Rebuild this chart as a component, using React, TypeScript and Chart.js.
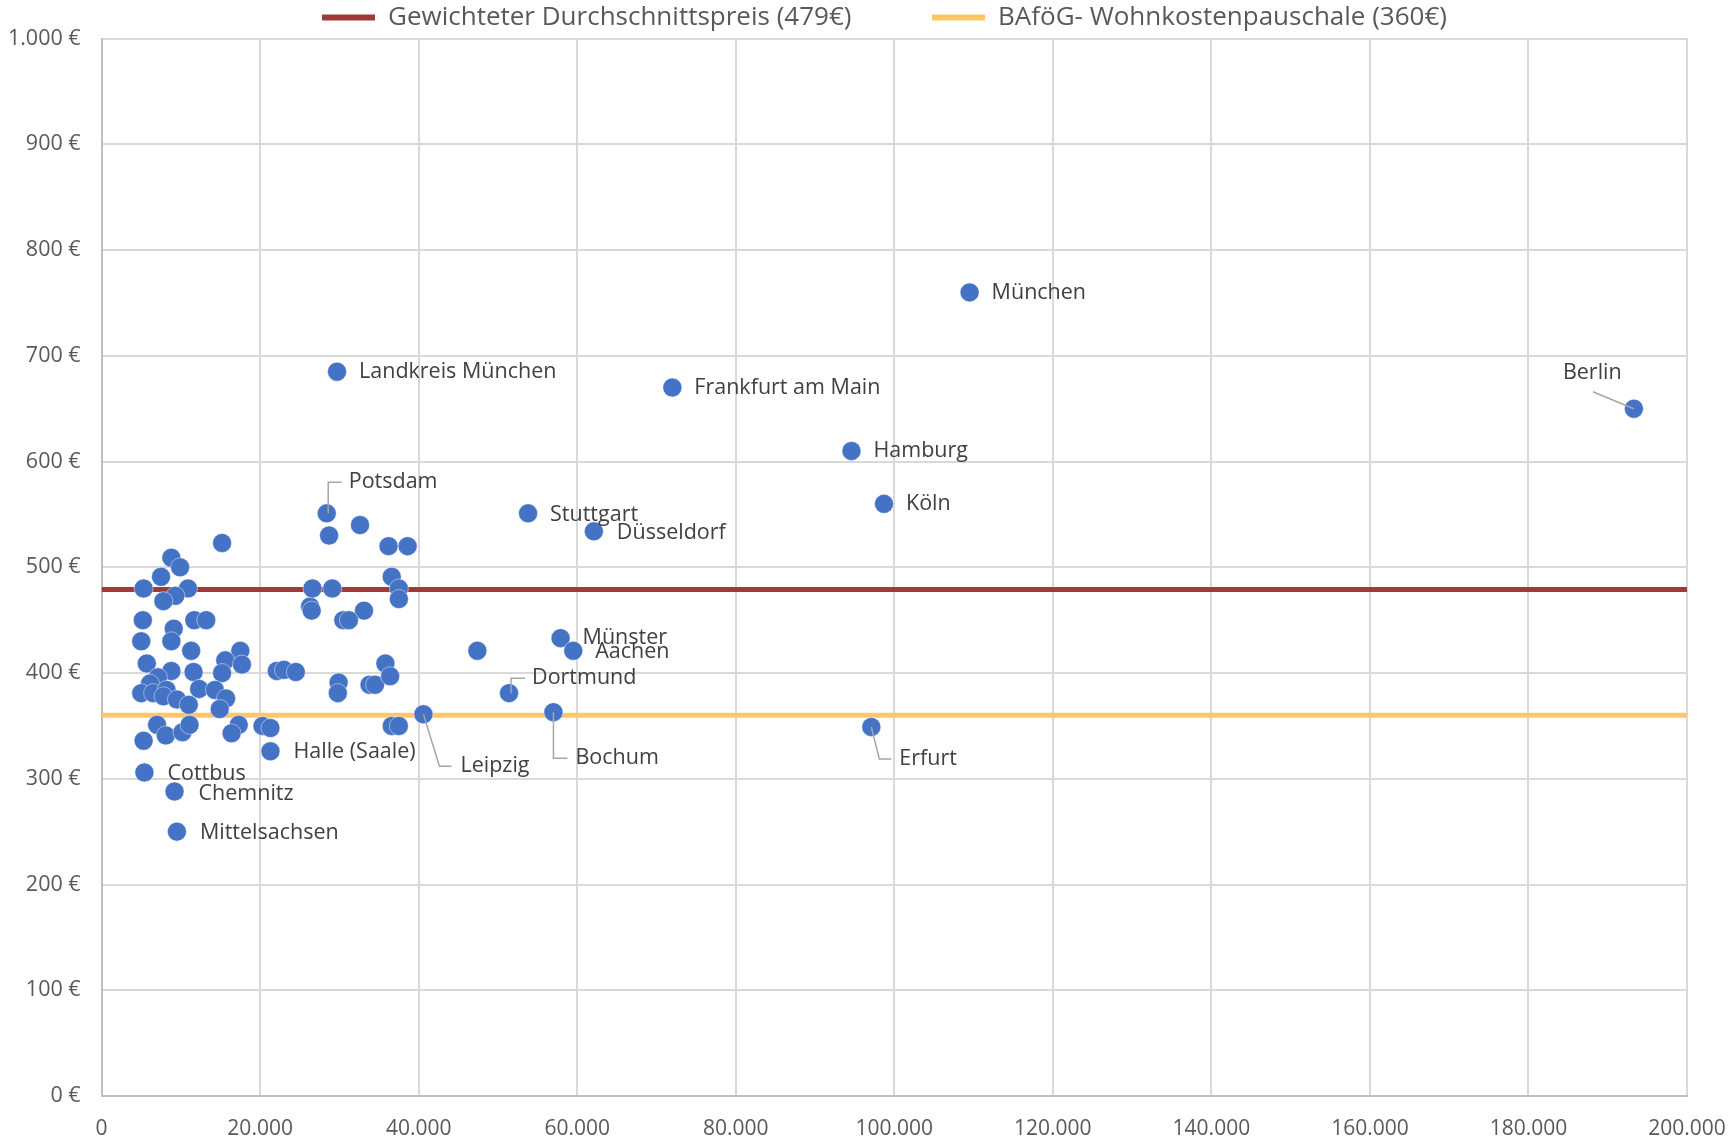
import React, { useEffect, useRef } from "react";
import { Chart, registerables } from "chart.js";

Chart.register(...registerables);

// ---------- data ----------
const labeledCities = [
  "München", "Berlin", "Landkreis München", "Frankfurt am Main", "Hamburg", "Köln",
  "Potsdam", "Stuttgart", "Düsseldorf", "Münster", "Aachen", "Dortmund", "Leipzig",
  "Bochum", "Erfurt", "Halle (Saale)", "Cottbus", "Chemnitz", "Mittelsachsen",
];
const labeledX = [
  109500, 193300, 29700, 72000, 94600, 98700,
  28400, 53800, 62100, 57900, 59500, 51400, 40600,
  57000, 97100, 21300, 5400, 9200, 9500,
];
const labeledY = [
  760, 650, 685, 670, 610, 560,
  551, 551, 534, 433, 421, 381, 361,
  363, 349, 326, 306, 288, 250,
];

const otherX = [
  15200, 8800, 9900, 7500, 5300, 10900, 9300, 7800, 5200, 11700, 13200, 9100, 5000, 8800,
  11300, 17500, 5700, 15600, 17700, 15200, 11600, 8800, 7100, 6100, 5000, 6500, 8200, 7800,
  9500, 11000, 12300, 14300, 15700, 14900, 7000, 8100, 5300, 10200, 11100, 17300, 16400,
  20300, 21300, 22100, 23000, 24500, 26300, 26500, 26600, 29100, 28700, 32600, 36200,
  38600, 36600, 37500, 37500, 33100, 30500, 31200, 29900, 29800, 33800, 34500, 35800,
  36400, 36600, 37500, 47400,
];
const otherY = [
  523, 509, 500, 491, 480, 480, 473, 468, 450, 450, 450, 442, 430, 430,
  421, 421, 409, 412, 408, 400, 401, 402, 396, 390, 381, 381, 384, 378,
  375, 370, 385, 384, 376, 366, 351, 341, 336, 344, 351, 351, 343,
  350, 348, 402, 403, 401, 463, 459, 480, 480, 530, 540, 520,
  520, 491, 480, 470, 459, 450, 450, 391, 381, 389, 389, 409,
  397, 350, 350, 421,
];

const averagePrice = 479;
const bafoegAllowance = 360;
const seriesNames = [
  "Gewichteter Durchschnittspreis (479€)",
  "BAföG- Wohnkostenpauschale (360€)",
];
const xRange = [0, 200000];
const xStep = 20000;
const yRange = [0, 1000];
const yStep = 100;

// ---------- label placement (pixel offsets, styling only) ----------
type Placement = { dx: number; dy: number; leader?: number[][] };
const labelPlacement: Placement[] = [
  { dx: 22, dy: 0 }, // München
  { dx: -71, dy: -36, leader: [[-41, -17], [0, 0]] }, // Berlin
  { dx: 22, dy: 0 }, // Landkreis München
  { dx: 22, dy: 0 }, // Frankfurt
  { dx: 22, dy: 0 }, // Hamburg
  { dx: 22, dy: 0 }, // Köln
  { dx: 22, dy: -31, leader: [[1.5, 0], [1.5, -31], [15, -31]] }, // Potsdam
  { dx: 22, dy: 2 }, // Stuttgart
  { dx: 23, dy: 2 }, // Düsseldorf
  { dx: 22, dy: 0 }, // Münster
  { dx: 22, dy: 1 }, // Aachen
  { dx: 23, dy: -15, leader: [[2, 0], [2, -15], [16, -15]] }, // Dortmund
  { dx: 37, dy: 52, leader: [[0, 0], [16, 52], [28, 52]] }, // Leipzig
  { dx: 22, dy: 46, leader: [[0, 0], [0, 46], [14, 46]] }, // Bochum
  { dx: 28, dy: 32, leader: [[0, 0], [8, 32], [20, 32]] }, // Erfurt
  { dx: 23, dy: 1 }, // Halle
  { dx: 23, dy: 1 }, // Cottbus
  { dx: 24, dy: 2 }, // Chemnitz
  { dx: 23, dy: 1 }, // Mittelsachsen
];

const FONT = '"Open Sans", "Noto Sans", sans-serif';
const fmt = (v: number) => String(Math.round(v)).replace(/\B(?=(\d{3})+(?!\d))/g, ".");

const cityLabelPlugin = {
  id: "cityLabels",
  afterDatasetsDraw(chart: any) {
    const meta = chart.getDatasetMeta(0);
    const ctx = chart.ctx;
    ctx.save();
    ctx.font = `21.5px ${FONT}`;
    ctx.fillStyle = "#404040";
    ctx.textBaseline = "middle";
    ctx.textAlign = "left";
    meta.data.forEach((pt: any, i: number) => {
      const p = labelPlacement[i];
      const { x, y } = pt.getProps(["x", "y"], true);
      if (p.leader) {
        ctx.beginPath();
        ctx.strokeStyle = "#A6A6A6";
        ctx.lineWidth = 1.5;
        p.leader.forEach(([lx, ly], k) => {
          if (k === 0) ctx.moveTo(x + lx, y + ly);
          else ctx.lineTo(x + lx, y + ly);
        });
        ctx.stroke();
      }
      ctx.fillText(labeledCities[i], x + p.dx, y + p.dy);
    });
    ctx.restore();
  },
};

// shifts the legend horizontally so it is centred like the reference
const legendShiftPlugin = {
  id: "legendShift",
  afterLayout(chart: any) {
    const lg = chart.legend;
    if (lg) {
      lg.left += 41;
      lg.right += 41;
      lg.top += 2;
      lg.bottom += 2;
    }
  },
};

export default function App() {
  const ref = useRef<HTMLCanvasElement | null>(null);

  useEffect(() => {
    document.body.style.margin = "0";
    document.body.style.overflow = "hidden";
    const canvas = ref.current;
    if (!canvas) return;

    const pointStyle = {
      pointRadius: 9.5,
      pointHoverRadius: 9.5,
      backgroundColor: "#4472C4",
      borderColor: "rgba(255,255,255,0.45)",
      borderWidth: 1,
    };

    const chart = new Chart(canvas, {
      type: "scatter",
      data: {
        datasets: [
          {
            label: "Städte",
            data: labeledX.map((x, i) => ({ x, y: labeledY[i] })),
            ...pointStyle,
          },
          {
            label: "Weitere",
            data: otherX.map((x, i) => ({ x, y: otherY[i] })),
            ...pointStyle,
          },
          {
            type: "line",
            label: seriesNames[0],
            data: [
              { x: xRange[0], y: averagePrice },
              { x: xRange[1], y: averagePrice },
            ],
            borderColor: "#9E3B37",
            backgroundColor: "#9E3B37",
            borderWidth: 5,
            pointRadius: 0,
            showLine: true,
          } as any,
          {
            type: "line",
            label: seriesNames[1],
            data: [
              { x: xRange[0], y: bafoegAllowance },
              { x: xRange[1], y: bafoegAllowance },
            ],
            borderColor: "#FFC766",
            backgroundColor: "#FFC766",
            borderWidth: 5,
            pointRadius: 0,
            showLine: true,
          } as any,
        ],
      },
      options: {
        animation: false,
        responsive: false,
        devicePixelRatio: 1,
        layout: { padding: { left: 0, right: 44, top: 0, bottom: 0 } },
        plugins: {
          tooltip: { enabled: false },
          legend: {
            position: "top",
            align: "center",
            labels: {
              boxWidth: 53,
              boxHeight: 6,
              padding: 2.6,
              color: "#595959",
              font: { family: FONT, size: 26 },
              filter: (item: any) => item.datasetIndex >= 2,
              generateLabels: (chart: any) => {
                const items = Chart.defaults.plugins.legend.labels.generateLabels(chart);
                return items.map((it: any) => ({
                  ...it,
                  lineWidth: 0,
                  text: it.datasetIndex === 2 ? it.text + "\u2003\u2003\u2003" : it.text,
                }));
              },
            },
          },
        },
        scales: {
          x: {
            type: "linear",
            min: xRange[0],
            max: xRange[1],
            afterFit: (s: any) => {
              s.height = 51;
              s.paddingLeft = 0;
              s.paddingRight = 0;
            },
            ticks: {
              stepSize: xStep,
              padding: 20,
              color: "#595959",
              font: { family: FONT, size: 21 },
              callback: (v: any) => fmt(Number(v)),
            },
            grid: { color: "#D9D9D9", lineWidth: 2, drawTicks: false },
            border: { color: "#BFBFBF", width: 2 },
          },
          y: {
            type: "linear",
            min: yRange[0],
            max: yRange[1],
            afterFit: (s: any) => {
              s.width = 101.6;
              s.paddingTop = 0;
              s.paddingBottom = 0;
            },
            ticks: {
              stepSize: yStep,
              padding: 21,
              color: "#595959",
              font: { family: FONT, size: 21.5 },
              callback: (v: any) => fmt(Number(v)) + " €",
            },
            grid: { color: "#D9D9D9", lineWidth: 2, drawTicks: false },
            border: { color: "#BFBFBF", width: 2 },
          },
        },
      },
      plugins: [cityLabelPlugin, legendShiftPlugin],
    });

    return () => chart.destroy();
  }, []);

  return (
    <div style={{ width: 1731, height: 1147, background: "#fff" }}>
      <canvas ref={ref} width={1731} height={1147} style={{ display: "block" }} />
    </div>
  );
}
